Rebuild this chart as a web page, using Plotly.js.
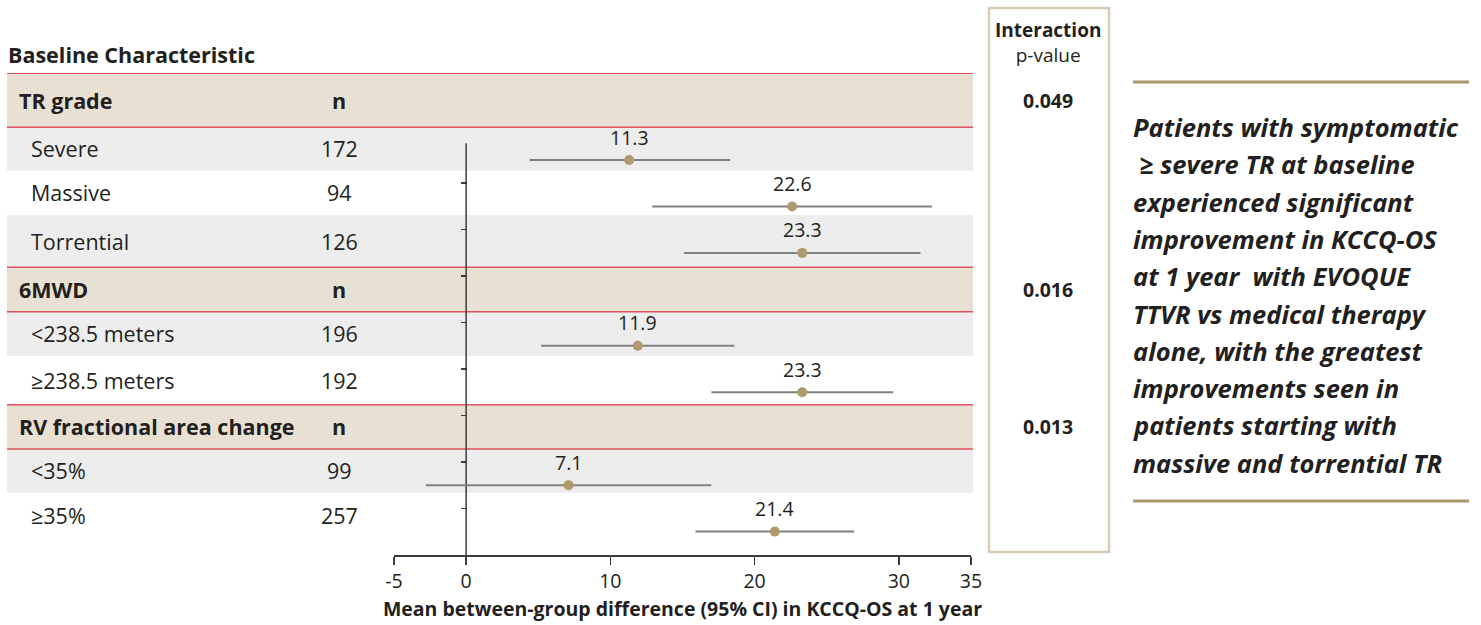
<!DOCTYPE html>
<html>
<head>
<meta charset="utf-8">
<script src="https://cdn.plot.ly/plotly-3.0.1.min.js"></script>
<style>html,body{margin:0;padding:0;background:#fff;}#chart{width:1481px;height:625px;}</style>
</head>
<body>
<div id="chart"></div>
<script>
// ---------------- data ----------------
const groups = ['TR grade', '6MWD', 'RV fractional area change'];
const categories = ['Severe', 'Massive', 'Torrential', '<238.5 meters', '\u2265238.5 meters', '<35%', '\u226535%'];
const categoryGroup = [0, 0, 0, 1, 1, 2, 2];
const nValues = [172, 94, 126, 196, 192, 99, 257];
const meanDiff = [11.3, 22.6, 23.3, 11.9, 23.3, 7.1, 21.4];
const ciLow = [4.4, 12.9, 15.1, 5.2, 17.0, -2.8, 15.9];
const ciHigh = [18.3, 32.3, 31.5, 18.6, 29.6, 17.0, 26.9];
const pValues = ['0.049', '0.016', '0.013'];
const xTicks = [-5, 0, 10, 20, 30, 35];
const xTitle = 'Mean between-group difference (95% CI) in KCCQ-OS at 1 year';
const tableTitle = 'Baseline Characteristic';
const pHeader = ['Interaction', 'p-value'];
const noteLines = [
  'Patients with symptomatic',
  '\u00a0\u2265 severe TR at baseline',
  'experienced significant',
  'improvement in KCCQ-OS',
  'at 1 year\u00a0 with EVOQUE',
  'TTVR vs medical therapy',
  'alone, with the greatest',
  'improvements seen in',
  'patients starting with',
  'massive and torrential TR'
];

// ---------------- layout helpers ----------------
const W = 1481, H = 625;
const FONT = '"Open Sans", "Noto Sans", sans-serif';
const TXT = '#231F20';
const px = v => v / W;            // x pixel -> paper
const py = v => (H - v) / H;      // y pixel -> paper
const esc = s => s.replace(/&/g, '&amp;').replace(/</g, '&lt;').replace(/>/g, '&gt;');

// slot index of each category row (group header rows take a slot too)
const rowSlot = [];
let slot = 0, prevGroup = 0;
categoryGroup.forEach((g, i) => {
  if (i > 0 && g !== prevGroup) slot += 1;
  rowSlot.push(slot); slot += 1; prevGroup = g;
});
// band edges (slot units) for header bands and row bands
const headerBands = [[-1.867, -0.704], [2.310, 3.266], [5.268, 6.222]];
const rowBands = [[-0.704, 0.230], [0.230, 1.184], [1.184, 2.310], [3.266, 4.220], [4.220, 5.268], [6.222, 7.163], [7.163, 8.138]];
const rowShaded = [true, false, true, true, false, true, false];
const yTop = -1.873, yBottom = 8.504;

const shapes = [];
rowBands.forEach((b, i) => {
  if (rowShaded[i]) shapes.push({type: 'rect', xref: 'paper', yref: 'y', x0: px(7), x1: px(973), y0: b[0], y1: b[1],
    fillcolor: '#ECEDEC', line: {width: 0}, layer: 'below'});
});
headerBands.forEach(b => {
  shapes.push({type: 'rect', xref: 'paper', yref: 'y', x0: px(7), x1: px(973), y0: b[0], y1: b[1],
    fillcolor: '#E8E1D3', line: {width: 0}, layer: 'below'});
});
headerBands.forEach(b => {
  [b[0], b[1]].forEach(e => shapes.push({type: 'line', xref: 'paper', yref: 'y', x0: px(7), x1: px(973), y0: e, y1: e,
    line: {color: '#E0535E', width: 1.5}, layer: 'below'}));
});
// vertical reference line at 0
shapes.push({type: 'line', xref: 'x', yref: 'y', x0: 0, x1: 0, y0: -0.36, y1: yBottom,
  line: {color: '#3C3C3C', width: 1.5}, layer: 'below'});
// interaction p-value box
shapes.push({type: 'rect', xref: 'paper', yref: 'paper', x0: px(989), x1: px(1109), y0: py(552), y1: py(8),
  line: {color: '#D6CDB5', width: 2.5}, fillcolor: 'rgba(0,0,0,0)'});
// gold rules around the note
[82, 501].forEach(v => shapes.push({type: 'line', xref: 'paper', yref: 'paper', x0: px(1133), x1: px(1469), y0: py(v), y1: py(v),
  line: {color: '#AB9770', width: 3}}));

const annotations = [];
annotations.push({xref: 'paper', yref: 'paper', x: px(6), y: py(54), xanchor: 'left', yanchor: 'middle', showarrow: false,
  text: '<b>' + tableTitle + '</b>', font: {family: FONT, size: 21.5, color: TXT}});
groups.forEach((g, gi) => {
  const yc = (headerBands[gi][0] + headerBands[gi][1]) / 2;
  annotations.push({xref: 'paper', yref: 'y', x: px(17), y: yc, xanchor: 'left', yanchor: 'middle', showarrow: false,
    text: '<b>' + esc(g) + '</b>', font: {family: FONT, size: 21.5, color: TXT}});
  annotations.push({xref: 'paper', yref: 'y', x: px(339), y: yc, xanchor: 'center', yanchor: 'middle', showarrow: false,
    text: '<b>n</b>', font: {family: FONT, size: 21.5, color: TXT}});
  annotations.push({xref: 'paper', yref: 'y', x: px(1048), y: yc, xanchor: 'center', yanchor: 'middle', showarrow: false,
    text: '<b>' + pValues[gi] + '</b>', font: {family: FONT, size: 19.5, color: TXT}});
});
categories.forEach((c, i) => {
  const yc = (rowBands[i][0] + rowBands[i][1]) / 2;
  annotations.push({xref: 'paper', yref: 'y', x: px(29), y: yc, xanchor: 'left', yanchor: 'middle', showarrow: false,
    text: esc(c), font: {family: FONT, size: 21.5, color: TXT}});
  annotations.push({xref: 'paper', yref: 'y', x: px(339), y: yc, xanchor: 'center', yanchor: 'middle', showarrow: false,
    text: String(nValues[i]), font: {family: FONT, size: 21.5, color: TXT}});
  // value label above each point, placed through the data scales
  annotations.push({xref: 'x', yref: 'y', x: meanDiff[i], y: rowSlot[i], yshift: 23, xanchor: 'center', yanchor: 'middle', showarrow: false,
    text: meanDiff[i].toFixed(1), font: {family: FONT, size: 19.5, color: TXT}});
});
annotations.push({xref: 'paper', yref: 'paper', x: px(1048), y: py(43), xanchor: 'center', yanchor: 'middle', showarrow: false,
  align: 'center', text: '<b>' + pHeader[0] + '</b><br>' + pHeader[1], font: {family: FONT, size: 19, color: TXT}});
noteLines.forEach((t, i) => {
  annotations.push({xref: 'paper', yref: 'paper', x: px(1131), y: py(127 + i * 37.3), xanchor: 'left', yanchor: 'middle', showarrow: false,
    text: '<b><i>' + esc(t) + '</i></b>', font: {family: FONT, size: 25.5, color: TXT}});
});

const trace = {
  type: 'scatter', mode: 'markers',
  x: meanDiff, y: rowSlot,
  marker: {size: 10, color: '#AE9A6C'},
  error_x: {type: 'data', symmetric: false,
    array: ciHigh.map((h, i) => h - meanDiff[i]),
    arrayminus: ciLow.map((l, i) => meanDiff[i] - l),
    color: '#808281', thickness: 2, width: 0},
  cliponaxis: false, hoverinfo: 'skip', showlegend: false
};

// y tick marks at the boundaries between slots
const yTickVals = [];
for (let s = 0; s < rowSlot[rowSlot.length - 1]; s++) yTickVals.push(s + 0.5);

const layout = {
  width: W, height: H,
  margin: {l: 0, r: 0, t: 0, b: 0},
  paper_bgcolor: '#ffffff', plot_bgcolor: 'rgba(0,0,0,0)',
  font: {family: FONT, color: TXT},
  showlegend: false,
  xaxis: {
    domain: [px(394), px(971)], range: [-5, 35],
    tickvals: xTicks, ticktext: xTicks.map(String),
    ticks: 'outside', ticklen: 8, tickwidth: 1.5, tickcolor: '#3C3C3C',
    showline: true, linecolor: '#3C3C3C', linewidth: 1.5,
    showgrid: false, zeroline: false,
    tickfont: {family: FONT, size: 19.5, color: TXT},
    title: {text: '<b>' + xTitle + '</b>', font: {family: FONT, size: 19.5, color: TXT}, standoff: 9}
  },
  yaxis: {
    domain: [py(555), py(73)], range: [yBottom, yTop],
    anchor: 'free', position: px(466.5),
    tickvals: yTickVals, showticklabels: false,
    ticks: 'outside', ticklen: 6, tickwidth: 1.5, tickcolor: '#3C3C3C',
    showline: false, showgrid: false, zeroline: false
  },
  shapes: shapes,
  annotations: annotations
};

Plotly.newPlot('chart', [trace], layout, {displayModeBar: false, staticPlot: true});
</script>
</body>
</html>
